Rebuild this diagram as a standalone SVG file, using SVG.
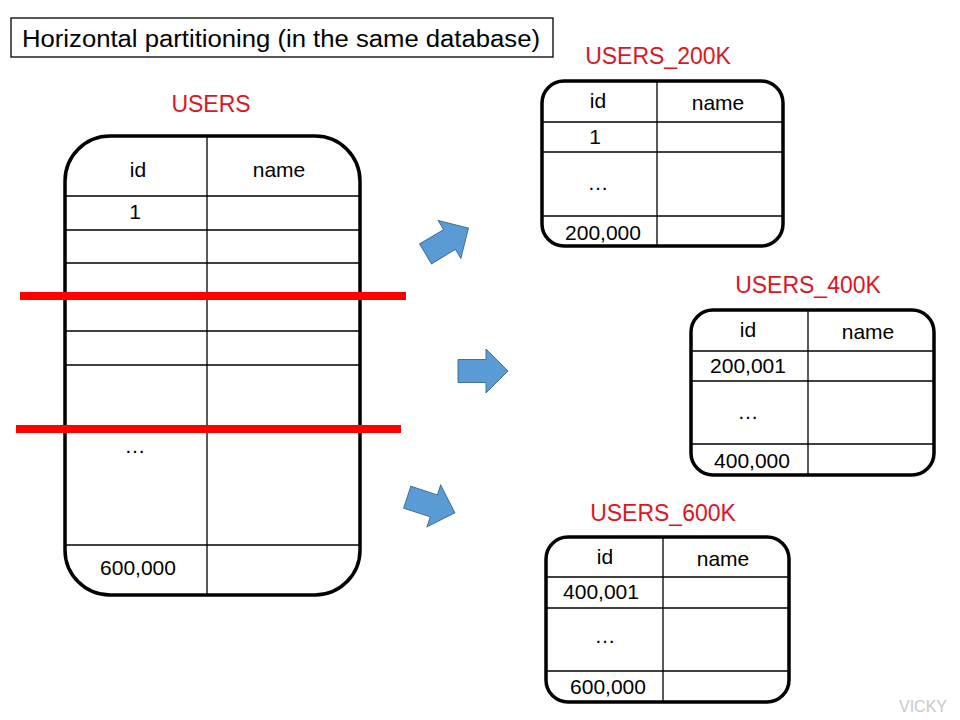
<svg xmlns="http://www.w3.org/2000/svg" width="960" height="720" viewBox="0 0 960 720">
<defs>
<style>
.frame{fill:none;stroke:#000;stroke-width:3.5}
.grid{stroke:#000;stroke-width:1.3;fill:none}
.t{font-family:"Liberation Sans",Arial,sans-serif;font-size:21px;fill:#000;text-anchor:middle}
.lbl{font-family:"Liberation Sans",Arial,sans-serif;font-size:23px;fill:#e0141e;text-anchor:middle}
.cut{stroke:#ff0000;stroke-width:8}
.arr{fill:#5b9bd5;stroke:#41719c;stroke-width:1}
</style>
<path id="blk" d="M -25,-11.5 L 3,-11.5 L 3,-22 L 25,0 L 3,22 L 3,11.5 L -25,11.5 Z"/>
</defs>
<rect width="960" height="720" fill="#fff"/>

<g id="title">
<rect x="11" y="18" width="542" height="39" fill="#fff" stroke="#000" stroke-width="1.3"/>
<text x="22" y="47" font-family="'Liberation Sans',Arial,sans-serif" font-size="23" textLength="518" lengthAdjust="spacingAndGlyphs">Horizontal partitioning (in the same database)</text>
</g>

<g id="users">
<text class="lbl" x="211" y="112">USERS</text>
<g class="grid">
<line x1="207" y1="136" x2="207" y2="595"/>
<line x1="66" y1="196" x2="359" y2="196"/>
<line x1="66" y1="230" x2="359" y2="230"/>
<line x1="66" y1="263" x2="359" y2="263"/>
<line x1="66" y1="331" x2="359" y2="331"/>
<line x1="66" y1="365" x2="359" y2="365"/>
<line x1="66" y1="545" x2="359" y2="545"/>
</g>
<rect class="frame" x="65" y="136" width="295" height="459" rx="45"/>
<text class="t" x="138" y="177">id</text>
<text class="t" x="279" y="177">name</text>
<text class="t" x="135" y="219">1</text>
<text class="t" x="135" y="453">…</text>
<text class="t" x="138" y="575">600,000</text>
</g>

<g id="cuts">
<line class="cut" x1="20" y1="296" x2="406" y2="296"/>
<line class="cut" x1="16" y1="429" x2="401" y2="429"/>
</g>

<g id="users_200k">
<text class="lbl" x="658" y="64">USERS_200K</text>
<g class="grid">
<line x1="657" y1="81" x2="657" y2="246"/>
<line x1="543" y1="122" x2="782" y2="122"/>
<line x1="543" y1="152" x2="782" y2="152"/>
<line x1="543" y1="216" x2="782" y2="216"/>
</g>
<rect class="frame" x="542" y="81" width="241" height="165" rx="22"/>
<text class="t" x="598" y="108">id</text>
<text class="t" x="718" y="110">name</text>
<text class="t" x="595" y="144">1</text>
<text class="t" x="598" y="190">…</text>
<text class="t" x="603" y="240">200,000</text>
</g>

<g id="users_400k">
<text class="lbl" x="808" y="293">USERS_400K</text>
<g class="grid">
<line x1="808" y1="310" x2="808" y2="475"/>
<line x1="692" y1="351" x2="933" y2="351"/>
<line x1="692" y1="381" x2="933" y2="381"/>
<line x1="692" y1="444" x2="933" y2="444"/>
</g>
<rect class="frame" x="691" y="310" width="243" height="165" rx="22"/>
<text class="t" x="748" y="337">id</text>
<text class="t" x="868" y="339">name</text>
<text class="t" x="748" y="373">200,001</text>
<text class="t" x="748" y="419">…</text>
<text class="t" x="752" y="468">400,000</text>
</g>

<g id="users_600k">
<text class="lbl" x="663" y="521">USERS_600K</text>
<g class="grid">
<line x1="663" y1="537" x2="663" y2="702"/>
<line x1="547" y1="577" x2="788" y2="577"/>
<line x1="547" y1="608" x2="788" y2="608"/>
<line x1="547" y1="671" x2="788" y2="671"/>
</g>
<rect class="frame" x="546" y="537" width="243" height="165" rx="22"/>
<text class="t" x="605" y="564">id</text>
<text class="t" x="723" y="566">name</text>
<text class="t" x="601" y="599">400,001</text>
<text class="t" x="605" y="643">…</text>
<text class="t" x="608" y="694">600,000</text>
</g>

<g id="connectors">
<use href="#blk" class="arr" transform="translate(447,241) rotate(-31)"/>
<use href="#blk" class="arr" transform="translate(483,371)"/>
<use href="#blk" class="arr" transform="translate(431,505) rotate(18)"/>
</g>

<text x="923" y="712" font-family="'Liberation Sans',Arial,sans-serif" font-size="16" fill="#c8c8c8" text-anchor="middle">VICKY</text>
</svg>
